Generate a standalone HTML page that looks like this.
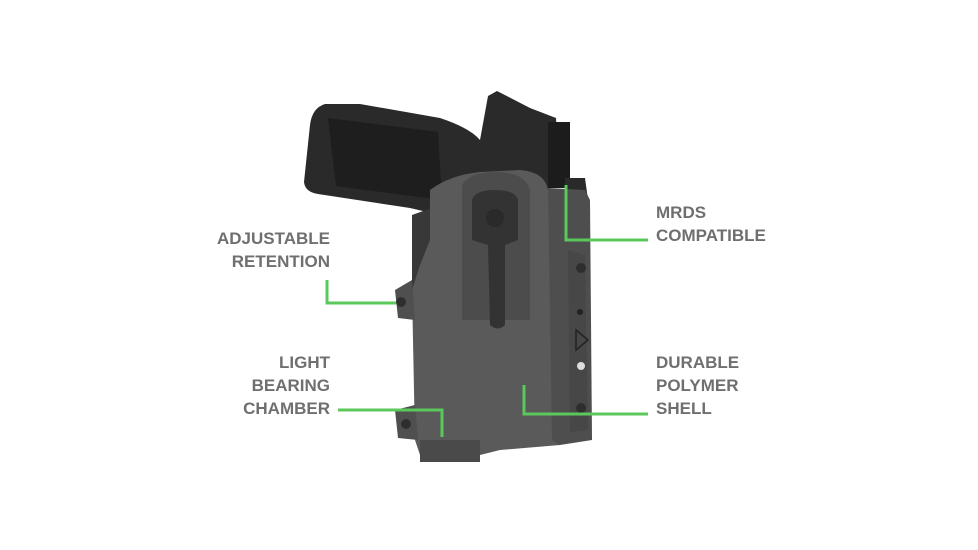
<!DOCTYPE html>
<html><head><meta charset="utf-8"><style>
html,body{margin:0;padding:0;background:#fff;}
body{width:978px;height:550px;position:relative;overflow:hidden;font-family:"Liberation Sans",sans-serif;}
.t{position:absolute;color:#6f6f6f;font-weight:bold;font-size:17px;line-height:23px;letter-spacing:0;}
.r{text-align:right;}
</style></head><body>
<svg width="978" height="550" style="position:absolute;left:0;top:0">
  <!-- grip + slide -->
  <path d="M325 104 Q312 108 310 125 L304 182 Q305 192 318 194 L410 208 L440 215 L470 195 L500 190 L548 190 L560 178 L556 118 L530 108 L497 91 L488 96 L480 140 Q470 128 440 118 L360 104 Z" fill="#2a2a2a"/>
  <path d="M328 118 L438 132 L442 200 L336 186 Z" fill="#1e1e1e"/>
  <rect x="548" y="122" width="22" height="66" fill="#1c1c1c"/>
  <path d="M565 178 L585 178 L588 200 L565 200 Z" fill="#2a2a2a"/>
  <!-- trigger guard area -->
  <path d="M412 215 L440 205 L445 300 L412 300 Z" fill="#383838"/>
  <!-- holster main body -->
  <path d="M430 190 Q450 175 480 172 L520 170 Q545 172 548 190 L560 190 L560 445 L500 450 L480 455 L420 455 L415 440 L412 290 L420 265 L430 240 Z" fill="#5a5a5a"/>
  <path d="M548 188 L585 190 L590 200 L592 440 L560 445 L552 440 Z" fill="#4e4e4e"/>
  <path d="M568 250 L585 255 L588 430 L570 432 Z" fill="#474747"/>
  <path d="M420 440 L480 440 L480 462 L420 462 Z" fill="#4a4a4a"/>
  <path d="M395 290 L412 280 L415 320 L398 318 Z" fill="#4f4f4f"/>
  <path d="M395 410 L415 405 L418 440 L398 438 Z" fill="#4f4f4f"/>
  <!-- clip -->
  <path d="M462 185 Q470 172 495 172 Q525 172 530 190 L530 320 L462 320 Z" fill="#4c4c4c"/>
  <path d="M472 200 Q475 190 495 190 Q515 190 518 200 L518 240 L505 245 L505 325 Q498 332 490 325 L488 245 L472 240 Z" fill="#333"/>
  <circle cx="495" cy="218" r="9" fill="#2a2a2a"/>
  <circle cx="401" cy="302" r="5" fill="#2e2e2e"/>
  <circle cx="406" cy="424" r="5" fill="#2e2e2e"/>
  <circle cx="581" cy="268" r="5" fill="#2e2e2e"/>
  <circle cx="581" cy="408" r="5" fill="#2e2e2e"/>
  <circle cx="580" cy="312" r="3" fill="#222"/>
  <circle cx="581" cy="366" r="4" fill="#ddd"/>
  <path d="M576 330 L588 340 L576 350 Z" fill="none" stroke="#222" stroke-width="1.5"/>
  <g fill="none" stroke="#5ac85a" stroke-width="3">
    <path d="M566 185 L566 240 L648 240"/>
    <path d="M327 280 L327 303 L396 303"/>
    <path d="M338 410 L442 410 L442 437"/>
    <path d="M524 385 L524 414 L648 414"/>
  </g>
</svg>
<div class="t r" style="right:648px;top:227px">ADJUSTABLE<br>RETENTION</div>
<div class="t r" style="right:648px;top:351px">LIGHT<br>BEARING<br>CHAMBER</div>
<div class="t" style="left:656px;top:201px">MRDS<br>COMPATIBLE</div>
<div class="t" style="left:656px;top:351px">DURABLE<br>POLYMER<br>SHELL</div>
</body></html>
